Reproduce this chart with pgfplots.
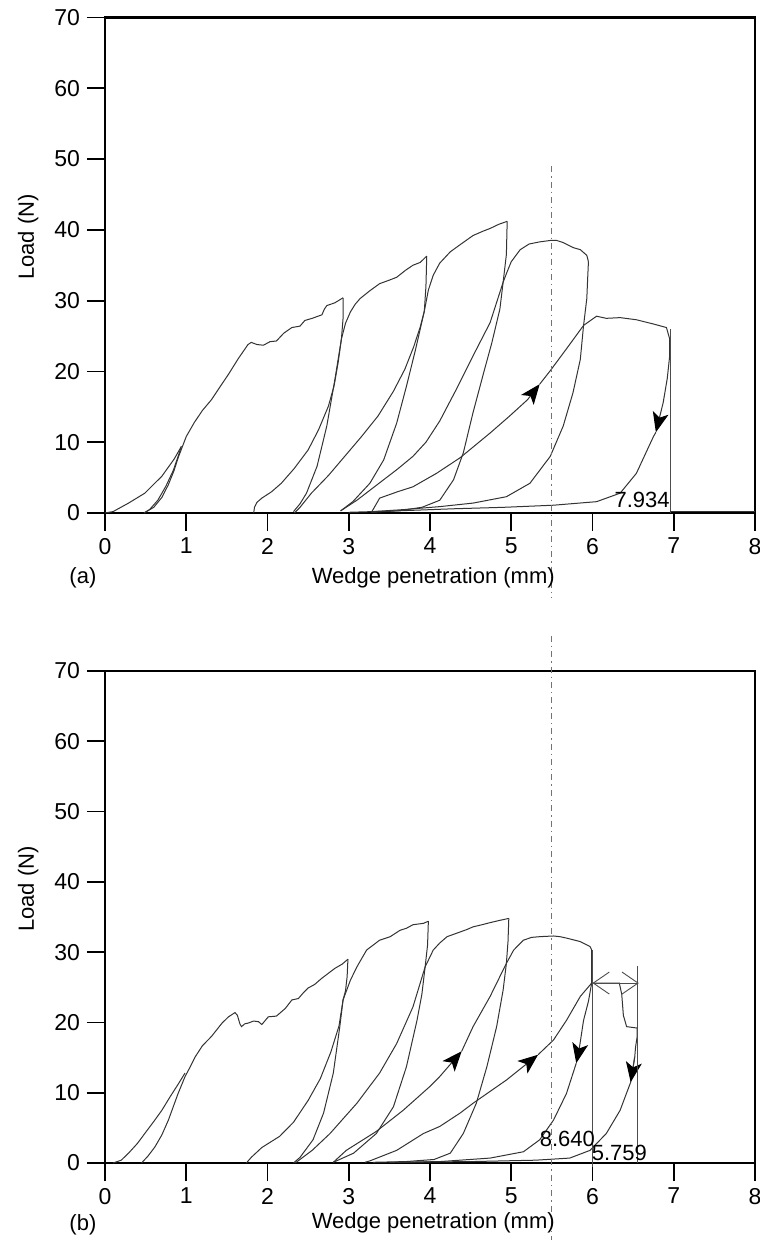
\documentclass[border=0pt]{standalone}
\usepackage{fontspec}
\setmainfont{Liberation Sans}
\usepackage{pgfplots}
\pgfplotsset{compat=1.18}
\usetikzlibrary{arrows.meta}

\pgfplotsset{
 panel/.style={
  scale only axis, width=325pt,
  xmin=0,xmax=8,ymin=0,ymax=70,
  xtick={0,...,8}, ytick={0,10,...,70},
  tick align=outside, tick pos=left,
  major tick length=9pt,
  axis line style={line width=1.1pt},
  every tick/.style={black, line width=0.9pt},
  tick label style={font=\fontsize{11.5}{13}\selectfont},
  label style={font=\fontsize{11}{13}\selectfont},
  /pgf/number format/assume math mode=true,
  clip=false,
  ylabel={Load (N)},
  xlabel={Wedge penetration (mm)},
 },
 crv/.style={line width=0.5pt, black!80, mark=none},
 arw/.style={crv, -{Stealth[length=10pt,width=8pt,inset=2.5pt,black]}},
 mk/.style={line width=0.45pt, black!70, mark=none},
 dd/.style={line width=0.5pt, black!55, dash pattern=on 3pt off 2pt on 0.7pt off 2pt, mark=none},
}

\begin{document}
\begin{tikzpicture}
\useasboundingbox (0,0) rectangle (380pt,625pt);

% ---------------- (a) ----------------
\begin{axis}[panel, height=247.75pt, at={(52.5pt,368.5pt)}, anchor=south west,
  xlabel style={at={(axis description cs:0.505,-0.131)}, anchor=center},
  ylabel style={at={(axis description cs:-0.118,0.557)}, anchor=center}]
\addplot[crv] coordinates {(0,0)(0.1,0.2)(0.29,1.4)(0.49,2.8)(0.70,5.2)(0.85,7.6)(0.94,9.4)};
\addplot[crv] coordinates {(0.48,0)(0.55,0.5)(0.65,1.8)(0.75,3.8)(0.84,6.0)(0.90,8.0)(0.94,9.4)};
\addplot[crv] coordinates {(0.48,0)(0.60,0.8)(0.70,2.2)(0.78,4.0)(0.85,6.0)(0.90,7.8)(0.95,9.3)(1.0,10.8)(1.1,12.8)(1.2,14.5)(1.31,16.0)(1.42,17.9)(1.52,19.6)(1.64,21.8)(1.76,23.8)(1.80,24.1)(1.87,23.8)(1.95,23.7)(2.03,24.2)(2.11,24.3)(2.20,25.4)(2.30,26.2)(2.40,26.4)(2.46,27.2)(2.55,27.5)(2.67,28.0)(2.70,28.8)(2.73,29.3)(2.83,29.7)(2.93,30.4)};
\addplot[crv] coordinates {(2.93,30.4)(2.93,27.5)(2.91,24.6)};
\addplot[crv] coordinates {(1.83,0)(1.84,0.8)(1.87,1.5)(1.93,2.1)(2.05,3.0)(2.17,4.2)(2.33,6.3)(2.50,8.9)(2.63,11.8)(2.75,15.1)(2.82,18.0)(2.87,21.3)(2.91,24.6)};
\addplot[crv] coordinates {(2.32,0.2)(2.40,1.3)(2.48,2.8)(2.61,6.6)(2.73,12.3)(2.83,18.9)(2.91,24.6)};
\addplot[crv] coordinates {(2.91,24.6)(2.96,26.8)(3.02,28.4)(3.08,29.5)(3.14,30.3)(3.26,31.4)(3.38,32.4)(3.50,32.9)(3.59,33.3)(3.70,34.3)(3.79,35.0)(3.88,35.4)(3.96,36.3)};
\addplot[crv] coordinates {(3.96,36.3)(3.95,32)(3.93,28.5)};
\addplot[crv] coordinates {(2.33,0)(2.40,0.8)(2.54,2.8)(2.75,5.3)(2.95,8.0)(3.15,10.7)(3.36,13.7)(3.55,17.2)(3.69,20.3)(3.80,23.5)(3.88,26.3)(3.93,28.5)};
\addplot[crv] coordinates {(2.90,0.3)(3.05,1.6)(3.26,4.2)(3.43,7.5)(3.59,12.7)(3.71,17.9)(3.82,23.0)(3.93,28.5)};
\addplot[crv] coordinates {(3.93,28.5)(3.98,31.5)(4.04,33.6)(4.12,35.3)(4.25,36.9)(4.37,37.9)(4.53,39.2)(4.65,39.8)(4.74,40.2)(4.85,40.8)(4.95,41.2)};
\addplot[crv] coordinates {(4.95,41.2)(4.94,36.5)(4.90,32.6)};
\addplot[crv] coordinates {(4.90,32.6)(4.86,28.8)(4.76,24)(4.66,19.8)(4.53,14.2)(4.41,8.5)(4.29,4.7)(4.12,1.8)(3.9,0.8)(3.6,0.3)(3.28,0.1)};
\addplot[crv] coordinates {(2.90,0.3)(3.1,1.8)(3.35,4.0)(3.6,6.2)(3.79,8.0)(3.95,10.0)(4.12,13.0)(4.33,17.6)(4.53,22.2)(4.74,26.9)(4.90,32.6)};
\addplot[crv] coordinates {(4.90,32.6)(4.95,34.1)(5.0,35.5)(5.11,37.2)(5.22,38.0)(5.35,38.3)(5.48,38.5)(5.56,38.5)(5.64,38.2)(5.76,37.5)(5.85,37.2)(5.93,36.4)(5.95,35.5)};
\addplot[crv] coordinates {(5.95,35.5)(5.94,33)(5.93,30.3)(5.89,26.5)};
\addplot[crv] coordinates {(5.89,26.5)(5.85,21.7)(5.76,17.0)(5.64,12.3)(5.48,8.0)(5.23,4.2)(4.94,2.3)(4.53,1.4)(4.12,0.9)(3.7,0.5)(3.3,0.2)};
\addplot[arw] coordinates {(3.28,0.1)(3.38,2.1)(3.60,3.0)(3.79,3.7)(4.08,5.6)(4.37,7.8)(4.74,11.3)(4.98,13.7)(5.20,16.0)(5.35,18.2)};
\addplot[crv] coordinates {(5.35,18.2)(5.48,20.1)(5.68,23.2)(5.89,26.5)};
\addplot[crv] coordinates {(5.89,26.5)(6.05,27.8)(6.17,27.5)(6.34,27.6)(6.54,27.3)(6.75,26.7)(6.91,26.2)(6.95,24.6)(6.95,22.2)};
\addplot[arw] coordinates {(6.95,22.2)(6.92,19)(6.87,15.6)(6.78,11.4)};
\addplot[crv] coordinates {(6.78,11.4)(6.75,10.8)(6.54,5.6)(6.34,2.8)(6.05,1.6)(5.52,1.1)(4.9,0.8)(4.3,0.6)(3.6,0.3)(3.0,0.1)};
\addplot[mk] coordinates {(6.96,26.0)(6.96,0)};
\addplot[dd] coordinates {(5.5,49)(5.5,-12)};
\addplot[crv] coordinates {(6.95,0.25)(8,0.25)};
\node[font=\fontsize{11}{13}\selectfont] at (axis cs:6.61,1.85) {7.934};
\node[font=\fontsize{11}{13}\selectfont] at (axis description cs:-0.034,-0.131) {(a)};
\end{axis}

% ---------------- (b) ----------------
\begin{axis}[panel, height=246pt, at={(52.5pt,43.5pt)}, anchor=south west,
  xlabel style={at={(axis description cs:0.505,-0.122)}, anchor=center},
  ylabel style={at={(axis description cs:-0.118,0.557)}, anchor=center}]
\addplot[crv] coordinates {(0.10,0)(0.2,0.4)(0.29,1.4)(0.40,2.8)(0.49,4.2)(0.60,5.9)(0.70,7.5)(0.80,9.4)(0.90,11.2)(0.985,12.8)};
\addplot[crv] coordinates {(0.45,0)(0.53,1.0)(0.615,2.3)(0.70,4.0)(0.78,6.1)(0.84,8.0)(0.90,9.9)(0.95,11.3)(0.985,12.3)(1.05,13.7)(1.11,15.1)(1.20,16.7)(1.31,18.0)(1.44,19.9)(1.52,20.8)(1.60,21.4)(1.63,21.0)(1.66,19.8)(1.68,19.4)(1.72,19.8)(1.76,19.9)(1.83,20.2)(1.89,20.1)(1.93,19.7)(2.01,20.8)(2.11,20.9)(2.16,21.4)(2.22,22.0)(2.30,23.2)(2.38,23.4)(2.44,24.2)(2.50,24.9)(2.58,25.4)(2.67,26.3)(2.75,27.0)(2.83,27.7)(2.92,28.3)(2.99,29.0)};
\addplot[crv] coordinates {(2.99,29.0)(2.98,26.5)(2.96,24.5)(2.93,23.2)};
\addplot[crv] coordinates {(1.74,0)(1.80,0.8)(1.93,2.2)(2.15,3.8)(2.32,5.8)(2.50,8.9)(2.65,12.0)(2.78,15.8)(2.88,19.5)(2.93,23.2)};
\addplot[crv] coordinates {(2.32,0)(2.40,0.8)(2.56,3.3)(2.69,7.1)(2.81,12.8)(2.89,19.4)(2.93,23.2)};
\addplot[crv] coordinates {(2.93,23.2)(3.02,26.0)(3.10,27.9)(3.22,30.3)(3.38,31.7)(3.51,32.2)(3.63,33.1)(3.71,33.4)(3.79,33.9)(3.92,34.1)(3.98,34.4)};
\addplot[crv] coordinates {(3.98,34.4)(3.97,31)(3.94,27.9)};
\addplot[crv] coordinates {(3.94,27.9)(3.79,22.2)(3.59,17.0)(3.38,12.8)(3.10,8.5)(2.77,4.2)(2.55,1.8)(2.40,0.5)(2.34,0)};
\addplot[crv] coordinates {(3.94,27.9)(3.90,24.0)(3.84,20.3)(3.71,13.7)(3.55,8.0)(3.34,4.2)(3.06,1.4)(2.81,0.1)};
\addplot[crv] coordinates {(3.94,27.9)(4.04,30.3)(4.12,31.3)(4.21,32.2)(4.33,32.7)(4.45,33.2)(4.53,33.6)(4.64,33.9)(4.74,34.2)(4.85,34.5)(4.97,34.8)};
\addplot[crv] coordinates {(4.97,34.8)(4.96,31.5)(4.94,28.4)};
\addplot[crv] coordinates {(4.94,28.4)(4.90,24.6)(4.82,19.4)(4.70,13.7)(4.57,8.5)(4.41,4.2)(4.25,1.4)(4.05,0.5)(3.7,0.2)(3.3,0.1)};
\addplot[arw] coordinates {(2.81,0.1)(2.97,1.8)(3.34,4.5)(3.67,7.5)(4.0,10.9)(4.12,12.3)(4.39,15.9)};
\addplot[crv] coordinates {(4.39,15.9)(4.53,19.4)(4.74,23.7)(4.94,28.4)};
\addplot[crv] coordinates {(4.94,28.4)(5.03,30.3)(5.15,31.7)(5.25,32.1)(5.35,32.2)(5.52,32.3)(5.60,32.2)(5.68,32.0)(5.85,31.5)(5.97,30.8)(5.99,30.3)};
\addplot[crv] coordinates {(5.99,30.3)(5.99,28)(5.99,25.6)};
\addplot[arw] coordinates {(5.99,25.6)(5.95,23)(5.89,20.3)(5.84,16.5)(5.80,14.2)};
\addplot[crv] coordinates {(5.80,14.2)(5.68,9.9)(5.52,6.1)(5.35,3.3)(5.15,1.6)(4.74,0.7)(4.12,0.2)(3.6,0.1)};
\addplot[arw] coordinates {(3.20,0.1)(3.26,0.3)(3.59,1.8)(3.92,4.2)(4.12,5.2)(4.37,7.1)(4.53,8.5)(4.94,11.8)(5.33,15.4)};
\addplot[crv] coordinates {(5.33,15.4)(5.52,17.5)(5.68,20.3)(5.85,23.7)(5.99,25.6)};
\addplot[crv] coordinates {(5.99,25.6)(6.33,25.6)(6.36,24.0)(6.38,21.0)(6.42,19.4)(6.55,19.2)(6.55,18.0)(6.53,16.5)(6.52,15.1)(6.47,11.5)};
\addplot[arw] coordinates {(6.52,15.1)(6.47,11.5)};
\addplot[crv] coordinates {(6.47,11.5)(6.34,7.5)(6.17,4.2)(5.97,1.8)(5.72,0.7)(5.3,0.4)(4.5,0.2)(3.5,0.1)};
\addplot[mk] coordinates {(6.0,30.3)(6.0,-0.5)};
\addplot[mk] coordinates {(6.55,28.0)(6.55,0)};
\addplot[mk, {Straight Barb[length=8pt,width=11pt]}-{Straight Barb[length=8pt,width=11pt]}] coordinates {(6.0,25.6)(6.57,25.6)};
\addplot[dd] coordinates {(5.5,75)(5.5,-11)};
\node[font=\fontsize{11}{13}\selectfont] at (axis cs:5.69,3.4) {8.640};
\node[font=\fontsize{11}{13}\selectfont] at (axis cs:6.33,1.4) {5.759};
\node[font=\fontsize{11}{13}\selectfont] at (axis description cs:-0.034,-0.126) {(b)};
\end{axis}
\end{tikzpicture}
\end{document}
